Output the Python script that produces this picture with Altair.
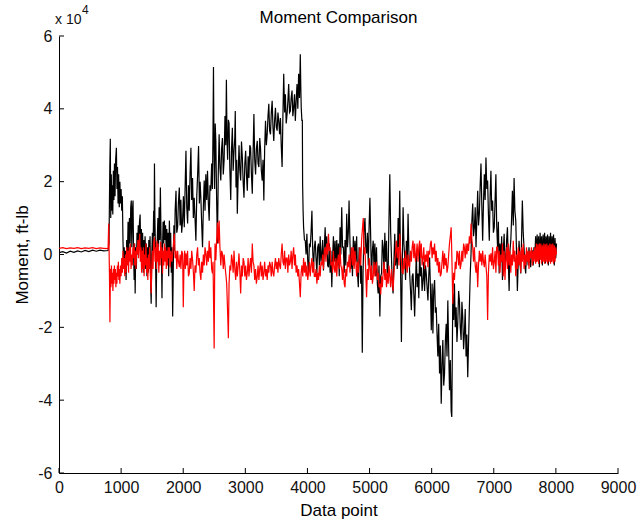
import altair as alt
import pandas as pd

# ---- data (x = data point index, y = moment in units of 1e4 ft-lb) ----
BLACK = [
    (1, 0.05), (60, 0.08), (120, 0.04), (180, 0.09), (240, 0.06), (300, 0.1), (360, 0.07), (420, 0.11),
    (480, 0.08), (540, 0.12), (600, 0.09), (660, 0.12), (720, 0.1), (790, 0.11),
    (805, 0.3), (818, 2.4), (826, 3.18), (833, 1.0), (842, 2.2), (850, 1.2), (858, 1.9), (866, 1.1),
    (875, 2.3), (884, 1.5), (893, 2.5), (902, 1.6), (912, 2.6), (924, 2.93), (933, 1.8), (942, 2.4),
    (951, 1.4), (960, 2.2), (970, 1.3), (980, 2.0), (990, 1.4), (1000, 1.8), (1010, 1.2), (1020, 1.6),
    (1030, 0.4), (1040, -0.3), (1050, 0.2), (1060, -0.52), (1070, 0.1), (1080, -0.7), (1090, 0.4),
    (1100, -0.2), (1112, 0.9), (1122, 0.0), (1134, 1.0), (1145, 0.3), (1155, 1.3), (1164, 1.48),
    (1172, 0.2), (1182, 1.2), (1192, 1.48), (1200, 0.1), (1210, -0.7), (1218, 0.3), (1226, -1.07),
    (1236, 0.2), (1246, -0.4), (1256, 0.6), (1266, 0.0), (1276, 0.8), (1286, 0.2), (1296, 0.9),
    (1306, 1.1), (1316, 0.1), (1326, 0.7), (1336, -0.2), (1346, 0.6), (1356, -0.5), (1366, 0.4),
    (1376, -0.3), (1386, 0.5), (1396, -0.4), (1406, 0.3), (1416, -0.6), (1426, 0.2), (1436, -0.5),
    (1446, 0.4), (1456, -0.2), (1466, 0.5), (1476, -0.8), (1484, -1.35), (1494, 0.0), (1504, 0.6),
    (1514, 0.1), (1524, 1.2), (1531, 0.5), (1537, 2.5), (1544, 1.0), (1551, 0.3), (1558, -0.6),
    (1564, -1.45), (1572, -0.3), (1582, 0.4), (1592, 1.0), (1602, 0.2), (1612, 1.3), (1622, 0.4),
    (1632, 1.84), (1642, 0.6), (1652, -0.4), (1658, -1.2), (1666, 0.1), (1676, 0.9), (1686, 0.3),
    (1696, 0.93), (1706, 0.4), (1716, 0.8), (1726, 0.1), (1736, 0.7), (1746, -0.2), (1756, 0.6),
    (1766, -0.6), (1777, 0.93), (1788, 0.1), (1798, 0.6), (1808, -0.5), (1818, 0.2), (1830, -1.7),
    (1840, -0.4), (1850, 0.8), (1860, 0.1), (1870, 1.2), (1884, 1.75), (1896, 0.6), (1910, 0.75),
    (1922, 1.4), (1937, 1.84), (1950, 0.8), (1962, 1.5), (1975, 0.6), (1990, 0.93), (2003, 1.6),
    (2017, 0.75), (2030, 1.8), (2044, 2.85), (2057, 1.3), (2071, 0.85), (2084, 1.9), (2097, 1.2),
    (2110, 2.2), (2124, 2.93), (2136, 1.5), (2150, 2.1), (2163, 1.0), (2177, 1.56), (2190, 1.0),
    (2204, 0.38), (2218, 1.6), (2232, 2.2), (2247, 2.98), (2260, 1.4), (2272, 2.0), (2284, 1.56),
    (2298, 0.8), (2311, 0.2), (2324, 1.3), (2338, 2.03), (2351, 1.2), (2364, 2.2), (2378, 1.5),
    (2391, 2.3), (2405, 1.4), (2418, 0.93), (2431, 1.9), (2444, 1.75), (2458, 2.5), (2470, 1.8),
    (2480, 3.5), (2487, 5.15), (2495, 3.0), (2505, 1.8), (2515, 3.6), (2525, 3.12), (2538, 1.5),
    (2551, 0.3), (2564, 2.2), (2578, 3.3), (2591, 2.4), (2605, 2.03), (2618, 2.9), (2631, 3.2),
    (2645, 2.2), (2658, 2.58), (2672, 3.8), (2685, 3.0), (2695, 4.8), (2705, 3.2), (2715, 2.6),
    (2727, 3.7), (2738, 3.6), (2750, 2.4), (2765, 1.5), (2778, 2.9), (2791, 3.48), (2804, 2.3),
    (2818, 2.85), (2830, 3.2), (2838, 3.94), (2850, 1.84), (2861, 2.6), (2871, 1.12), (2885, 2.2),
    (2898, 3.0), (2912, 2.3), (2925, 2.03), (2938, 3.1), (2952, 2.66), (2965, 2.0), (2978, 1.56),
    (2992, 2.5), (3005, 2.85), (3018, 2.2), (3032, 1.75), (3045, 2.7), (3058, 2.1), (3072, 3.0),
    (3085, 2.93), (3098, 2.2), (3112, 1.67), (3125, 2.8), (3138, 3.86), (3151, 2.6), (3165, 2.2),
    (3178, 2.9), (3192, 3.12), (3205, 2.5), (3218, 2.4), (3232, 3.2), (3245, 2.9), (3258, 2.3),
    (3272, 2.03), (3285, 2.6), (3298, 1.48), (3311, 2.9), (3325, 3.67), (3338, 3.0), (3352, 3.3),
    (3365, 3.8), (3378, 4.14), (3391, 3.4), (3405, 3.3), (3418, 3.9), (3432, 4.22), (3445, 3.5),
    (3458, 3.12), (3472, 3.7), (3485, 4.03), (3498, 3.5), (3512, 3.4), (3525, 3.9), (3538, 3.67),
    (3552, 3.3), (3565, 3.75), (3578, 3.0), (3592, 2.4), (3605, 3.8), (3618, 4.96), (3632, 3.9),
    (3645, 4.4), (3658, 3.6), (3672, 3.85), (3685, 4.2), (3698, 4.68), (3712, 3.9), (3725, 3.94),
    (3738, 4.3), (3752, 4.5), (3765, 3.8), (3778, 4.03), (3792, 4.4), (3805, 3.67), (3818, 4.2),
    (3832, 4.68), (3845, 4.0), (3858, 4.96), (3872, 4.3), (3885, 5.5), (3893, 4.6), (3900, 4.03),
    (3911, 3.67), (3918, 3.7), (3922, 1.94), (3930, 1.2), (3938, 0.75), (3952, 0.4), (3965, 0.38),
    (3978, 0.0), (3991, 0.57), (4005, -0.2), (4018, -0.52), (4031, 0.3), (4045, 0.2), (4058, 0.6),
    (4072, 1.2), (4085, 0.1), (4098, -0.44), (4111, 0.2), (4125, 0.38), (4138, -0.1), (4152, -0.52),
    (4165, 0.2), (4178, 0.3), (4192, -0.3), (4205, 0.5), (4218, -0.2), (4232, 0.03), (4245, 0.4),
    (4258, -0.44), (4272, 0.2), (4285, 0.75), (4298, 0.0), (4311, 0.5), (4325, -0.3), (4338, -0.35),
    (4352, 0.3), (4365, -0.5), (4378, 0.1), (4392, -0.9), (4405, -0.1), (4418, 0.5), (4432, -0.2),
    (4445, 0.38), (4458, -0.4), (4472, 0.4), (4485, -0.3), (4498, 0.3), (4512, -0.6), (4525, 0.75),
    (4538, 0.0), (4552, 1.3), (4565, 0.2), (4578, 0.2), (4592, -0.5), (4605, 0.4), (4618, -0.3),
    (4632, 1.12), (4645, 0.2), (4658, 0.6), (4670, 1.48), (4685, 0.3), (4698, -0.4), (4712, 0.1),
    (4725, -0.6), (4739, 0.5), (4752, -0.3), (4765, 0.38), (4778, -0.2), (4792, 0.5), (4805, -0.5),
    (4819, -0.9), (4832, 0.2), (4845, 0.03), (4858, -0.8), (4870, -0.3), (4883, -2.7), (4895, -0.5),
    (4910, 0.6), (4926, 1.0), (4939, 0.2), (4952, 0.03), (4965, 0.6), (4980, -0.3), (4993, 0.8),
    (5006, 1.56), (5019, 0.4), (5032, -0.7), (5045, 0.1), (5059, 0.38), (5072, -0.4), (5085, 0.3),
    (5099, -0.6), (5112, 0.2), (5125, -0.8), (5139, -1.07), (5152, -0.3), (5166, -1.7), (5179, -0.6),
    (5193, -0.52), (5206, 0.4), (5219, 0.2), (5232, -0.5), (5246, 0.6), (5259, -0.2), (5273, 0.38),
    (5286, -0.6), (5299, -0.52), (5312, 0.9), (5326, 2.2), (5340, 0.6), (5353, -0.08), (5366, -0.8),
    (5379, -1.07), (5392, -0.2), (5406, 0.57), (5419, -0.3), (5433, 0.2), (5446, -0.4), (5460, 1.0),
    (5473, 0.2), (5486, 1.75), (5500, -0.5), (5513, -2.4), (5527, -0.2), (5540, 1.3), (5553, 0.3),
    (5566, -0.08), (5580, -0.7), (5593, 0.38), (5606, -0.3), (5620, 1.12), (5633, 0.1), (5646, -0.52),
    (5660, -1.0), (5673, -1.53), (5686, -0.6), (5700, -0.52), (5713, -1.1), (5726, -1.7), (5740, -0.8),
    (5753, 0.03), (5766, -0.9), (5780, -0.52), (5793, -1.2), (5807, 0.2), (5820, -0.6), (5833, -0.35),
    (5846, -1.0), (5860, -0.7), (5873, -0.2), (5886, -1.0), (5900, -0.3), (5913, -0.52), (5926, -0.9),
    (5940, -1.26), (5953, -0.6), (5967, -0.08), (5980, -0.9), (5994, -2.08), (6007, -0.8), (6020, -2.17),
    (6033, -1.0), (6047, -0.7), (6060, -1.6), (6073, -1.45), (6087, -2.2), (6100, -2.8), (6113, -1.9),
    (6127, -3.27), (6140, -2.5), (6154, -4.1), (6167, -3.0), (6180, -2.35), (6194, -3.6), (6207, -3.27),
    (6220, -2.4), (6234, -1.9), (6247, -2.8), (6260, -1.26), (6274, -2.6), (6287, -3.73), (6300, -2.9),
    (6314, -4.3), (6324, -4.46), (6332, -2.8), (6340, -1.07), (6354, -1.8), (6367, -0.8), (6380, -2.0),
    (6394, -1.45), (6407, -2.4), (6420, -1.9), (6434, -1.0), (6447, -1.26), (6460, -2.0), (6474, -2.35),
    (6487, -1.3), (6500, -1.7), (6514, -2.6), (6527, -2.17), (6540, -1.5), (6554, -2.8), (6567, -2.2),
    (6581, -3.37), (6594, -2.4), (6607, -1.45), (6620, -0.6), (6634, 0.03), (6647, 0.9), (6661, 1.4),
    (6674, 0.5), (6688, 0.75), (6701, 1.3), (6714, 0.2), (6728, 1.0), (6741, 1.75), (6754, 0.8),
    (6768, 1.12), (6781, 1.9), (6794, 2.5), (6808, 1.3), (6821, 0.38), (6834, 1.4), (6848, 2.2),
    (6861, 1.5), (6874, 2.66), (6888, 1.8), (6901, 2.03), (6914, 1.1), (6928, 0.38), (6941, 1.6),
    (6954, 2.3), (6967, 1.2), (6981, 1.48), (6994, 0.6), (7008, 0.75), (7021, 1.5), (7034, 2.2),
    (7047, 0.8), (7061, 0.2), (7074, 0.9), (7087, -0.52), (7100, 0.3), (7114, -0.2), (7127, 0.5),
    (7140, -0.7), (7153, 0.1), (7167, 0.57), (7180, -0.3), (7194, -0.16), (7207, 0.4), (7220, 0.75),
    (7234, -0.2), (7247, -1.0), (7260, 0.1), (7274, 0.38), (7287, 1.0), (7300, 1.75), (7314, 0.8),
    (7327, 2.1), (7340, 1.2), (7354, 0.93), (7367, 0.0), (7380, -1.0), (7394, -0.2), (7407, 0.38),
    (7420, -0.1), (7434, -0.52), (7447, 0.4), (7460, 1.48), (7474, 0.6), (7487, 0.2), (7500, -0.3),
    (7514, -0.52), (7527, 0.1), (7540, 0.03), (7554, -0.3), (7567, 0.2), (7580, -0.2), (7594, -0.35),
    (7607, 0.1), (7621, 0.1), (7634, -0.3), (7647, 0.2), (7660, -0.1), (7674, 0.5), (7686, -0.2),
    (7698, 0.55), (7710, -0.1), (7722, 0.5), (7734, -0.35), (7746, 0.6), (7758, 0.0), (7770, 0.5),
    (7782, -0.3), (7794, 0.55), (7806, -0.1), (7818, 0.6), (7830, -0.25), (7842, 0.5), (7854, 0.05),
    (7866, 0.55), (7878, -0.3), (7890, 0.5), (7902, -0.1), (7914, 0.6), (7926, -0.2), (7938, 0.5),
    (7950, 0.0), (7962, 0.55), (7974, -0.3), (7986, 0.45), (7998, -0.1), (8010, 0.3),
]

RED = [
    (1, 0.17), (60, 0.19), (120, 0.16), (180, 0.18), (240, 0.17), (300, 0.19), (360, 0.16), (420, 0.18),
    (480, 0.17), (540, 0.19), (600, 0.16), (660, 0.18), (720, 0.17), (790, 0.16),
    (800, 0.85), (812, -0.5), (820, -1.86), (828, -0.4), (836, -0.9), (844, -0.3), (852, -0.8),
    (860, -0.5), (868, -1.0), (876, -0.4), (884, -0.8), (892, -0.3), (900, -0.7), (908, -0.4),
    (916, -0.9), (924, -0.5), (932, -0.8), (940, -0.3), (948, -0.6), (956, -0.2), (964, -0.7),
    (972, -0.4), (980, -0.8), (990, -0.3), (1000, -0.6), (1010, -0.1), (1020, -0.5), (1030, 0.1),
    (1040, -0.4), (1050, -0.1), (1060, -0.6), (1070, 0.0), (1080, -0.5), (1090, 0.2), (1100, -0.3),
    (1110, 0.1), (1120, -0.5), (1130, 0.2), (1140, -0.2), (1150, 0.3), (1160, -0.4), (1170, 0.0),
    (1180, -0.3), (1190, 0.2), (1200, -0.1), (1210, 0.3), (1220, -0.3), (1230, 0.1), (1240, -0.4),
    (1250, 0.2), (1260, 0.0), (1270, 0.4), (1280, -0.1), (1290, 0.33), (1300, 0.57), (1310, -0.2),
    (1320, 0.2), (1330, -0.5), (1340, 0.1), (1350, -0.4), (1360, 0.2), (1370, -0.6), (1380, 0.0),
    (1390, -0.3), (1400, 0.3), (1410, -0.5), (1420, -0.1), (1430, -0.7), (1440, 0.0), (1450, -0.4),
    (1460, 0.2), (1470, -0.5), (1484, -1.07), (1494, -0.3), (1504, 0.1), (1514, -0.4), (1524, 0.3),
    (1537, 0.47), (1547, -0.2), (1557, 0.2), (1567, -0.4), (1577, 0.38), (1587, -0.2), (1597, 0.3),
    (1607, -0.5), (1617, 0.1), (1627, -0.3), (1637, 0.35), (1647, -0.1), (1657, 0.2), (1667, -0.52),
    (1677, 0.1), (1687, -0.3), (1697, 0.3), (1707, -0.2), (1717, 0.2), (1727, -0.4), (1737, 0.1),
    (1747, -0.3), (1757, 0.2), (1767, -0.1), (1777, 0.2), (1790, -0.35), (1804, 0.1), (1817, -0.2),
    (1830, 0.0), (1843, 0.3), (1857, 0.57), (1870, -0.1), (1884, 0.1), (1897, -0.4), (1910, 0.1),
    (1923, -0.2), (1937, -0.35), (1950, 0.0), (1963, -0.4), (1976, 0.1), (1990, 0.03), (2001, -1.45),
    (2012, -0.3), (2023, 0.1), (2034, -0.4), (2044, 0.03), (2057, -0.3), (2070, 0.1), (2084, -0.6),
    (2097, -0.52), (2110, -0.1), (2124, -0.4), (2137, 0.1), (2151, -0.16), (2164, -0.5), (2177, -1.0),
    (2190, -0.3), (2204, -0.5), (2218, 0.0), (2231, 0.2), (2244, -0.3), (2258, -0.1), (2271, -0.5),
    (2284, -0.7), (2297, -0.2), (2311, -0.5), (2324, 0.0), (2338, -0.3), (2351, 0.2), (2364, 0.03),
    (2378, -0.3), (2391, 0.1), (2405, -0.2), (2418, 0.38), (2431, -0.1), (2444, 0.2), (2458, -0.4),
    (2471, -0.52), (2480, -0.2), (2490, -1.5), (2498, -2.58), (2505, -0.8), (2512, 0.3), (2525, -0.16),
    (2538, 0.4), (2551, 0.88), (2565, 0.3), (2578, 0.93), (2591, 0.2), (2605, -0.3), (2618, 0.1),
    (2631, 0.03), (2645, -0.4), (2658, 0.0), (2672, -0.3), (2685, -0.52), (2700, -0.8), (2715, -1.6),
    (2727, -2.3), (2738, -0.8), (2752, -0.3), (2765, -0.44), (2778, 0.0), (2791, -0.16), (2804, -0.5),
    (2818, 0.1), (2831, -0.4), (2845, -0.7), (2858, -0.2), (2871, -0.6), (2885, -0.3), (2898, 0.03),
    (2912, -0.5), (2925, -1.07), (2938, -0.3), (2952, -0.6), (2965, -0.1), (2978, -0.2), (2992, -0.6),
    (3005, -0.3), (3018, -0.7), (3032, -0.5), (3045, -0.1), (3058, -0.6), (3072, -0.3), (3085, -0.1),
    (3098, -0.5), (3112, 0.3), (3125, -0.2), (3138, -0.3), (3151, -0.7), (3165, -0.4), (3178, -0.8),
    (3192, -0.6), (3205, -0.3), (3218, -0.7), (3232, -0.4), (3245, -0.2), (3258, -0.6), (3272, -0.3),
    (3285, -0.7), (3298, -0.5), (3311, -0.2), (3325, -0.6), (3338, -0.4), (3352, -0.7), (3365, -0.3),
    (3378, -0.5), (3391, -0.2), (3405, -0.3), (3418, -0.6), (3432, -0.2), (3445, -0.5), (3458, -0.6),
    (3472, -0.3), (3485, -0.1), (3498, -0.4), (3512, -0.2), (3525, -0.5), (3538, -0.1), (3552, -0.3),
    (3565, -0.4), (3578, 0.0), (3592, 0.3), (3605, -0.2), (3618, -0.3), (3632, 0.1), (3645, -0.4),
    (3658, -0.1), (3672, -0.1), (3685, -0.5), (3698, 0.0), (3712, -0.3), (3725, -0.2), (3738, 0.1),
    (3752, -0.4), (3765, 0.0), (3778, 0.2), (3792, -0.3), (3805, 0.0), (3818, -0.5), (3832, -0.3),
    (3845, -0.6), (3858, -0.4), (3872, -0.8), (3885, -1.17), (3898, -0.5), (3911, -0.3), (3925, -0.6),
    (3938, -0.1), (3952, -0.5), (3965, -0.2), (3978, -0.6), (3991, -0.3), (4005, -0.7), (4018, -0.5),
    (4031, -0.2), (4045, -0.6), (4058, -0.3), (4072, -0.1), (4085, -0.5), (4098, -0.2), (4111, -0.6),
    (4125, -0.6), (4138, -0.4), (4152, -0.8), (4165, -0.5), (4178, -0.7), (4192, -0.3), (4205, -0.6),
    (4218, -0.2), (4232, -0.3), (4245, 0.0), (4258, -0.4), (4272, 0.1), (4285, 0.2), (4298, -0.2),
    (4311, 0.3), (4325, 0.0), (4338, 0.57), (4352, 0.1), (4365, 0.2), (4378, -0.3), (4392, -0.2),
    (4405, -0.5), (4418, 0.1), (4432, -0.4), (4445, -0.5), (4458, -0.1), (4472, -0.6), (4485, -0.2),
    (4498, 0.0), (4512, -0.4), (4525, 0.2), (4538, -0.3), (4552, -0.4), (4565, -0.7), (4578, -0.3),
    (4592, -0.8), (4605, -0.9), (4618, -0.4), (4632, -0.6), (4645, -0.2), (4658, -0.35), (4672, 0.0),
    (4685, -0.5), (4698, -0.1), (4712, 0.2), (4725, -0.3), (4739, 0.2), (4752, -0.4), (4765, 0.1),
    (4778, -0.2), (4792, -0.6), (4805, -0.2), (4819, -0.5), (4832, -0.1), (4845, 0.2), (4858, -0.3),
    (4872, 0.4), (4885, 0.7), (4899, 1.0), (4912, 0.0), (4926, 0.2), (4939, -0.5), (4952, -1.17),
    (4966, -0.4), (4980, -0.7), (4993, -0.1), (5006, -0.3), (5019, -0.7), (5032, -0.3), (5046, -0.8),
    (5059, -0.6), (5072, -0.2), (5086, -0.6), (5099, -0.3), (5112, -0.2), (5126, -0.7), (5139, -0.5),
    (5153, -0.9), (5166, -0.8), (5180, -1.1), (5193, -0.6), (5206, -0.9), (5219, -0.5), (5233, -0.2),
    (5246, -0.7), (5260, -0.4), (5273, -0.9), (5286, -0.5), (5300, -0.8), (5313, -0.3), (5326, -0.6),
    (5340, -0.9), (5353, -0.4), (5366, -0.7), (5379, -1.0), (5393, -0.5), (5406, -0.2), (5420, 0.1),
    (5433, 0.38), (5446, -0.1), (5460, 0.2), (5473, -0.3), (5486, 0.57), (5500, 0.1), (5513, -0.2),
    (5527, -0.5), (5540, -0.52), (5553, -0.1), (5566, -0.4), (5580, 0.1), (5593, -0.2), (5607, -0.5),
    (5620, 0.0), (5633, -0.3), (5646, -0.35), (5660, 0.1), (5673, -0.2), (5686, 0.2), (5700, 0.38),
    (5713, -0.1), (5726, 0.3), (5740, -0.2), (5753, 0.0), (5766, 0.3), (5780, -0.2), (5793, 0.2),
    (5807, 0.38), (5820, -0.1), (5833, 0.3), (5846, -0.3), (5860, -0.1), (5873, 0.2), (5886, -0.4),
    (5900, 0.0), (5913, -0.2), (5926, 0.1), (5940, -0.35), (5953, 0.1), (5967, 0.0), (5980, 0.3),
    (5993, 0.38), (6007, -0.1), (6020, 0.2), (6033, 0.0), (6047, 0.3), (6060, -0.2), (6073, 0.1),
    (6087, -0.3), (6100, -0.1), (6113, -0.5), (6127, -0.2), (6140, -0.6), (6154, -0.52), (6167, -0.2),
    (6180, 0.1), (6194, -0.4), (6207, 0.03), (6220, -0.3), (6234, -0.1), (6247, -0.5), (6260, -0.35),
    (6274, 0.0), (6287, 0.3), (6300, 0.5), (6314, 0.75), (6327, -0.2), (6340, -1.35), (6354, -0.5),
    (6367, -0.7), (6380, -0.2), (6394, -0.4), (6407, 0.1), (6420, 0.03), (6434, -0.3), (6447, 0.1),
    (6460, -0.4), (6474, -0.25), (6487, 0.1), (6500, -0.2), (6514, 0.3), (6527, 0.2), (6540, -0.1),
    (6554, 0.3), (6567, 0.0), (6581, 0.3), (6594, 0.1), (6607, 0.5), (6620, 0.3), (6634, 0.85),
    (6647, 0.4), (6661, 0.2), (6674, -0.2), (6688, 0.2), (6701, -0.3), (6714, -0.5), (6728, -0.2),
    (6741, -0.9), (6754, -0.3), (6768, 0.1), (6781, -0.2), (6794, 0.03), (6808, -0.3), (6821, 0.1),
    (6834, -0.2), (6848, -0.35), (6861, 0.0), (6874, -0.3), (6888, -0.6), (6901, -1.8), (6914, -0.5),
    (6928, 0.0), (6941, -0.2), (6954, 0.03), (6967, -0.3), (6981, 0.2), (6994, -0.4), (7008, -0.2),
    (7021, 0.1), (7034, -0.5), (7047, 0.2), (7061, 0.2), (7074, -0.3), (7087, 0.1), (7100, -0.5),
    (7114, 0.0), (7127, -0.2), (7140, 0.3), (7153, -0.6), (7167, 0.1), (7180, -0.7), (7194, -0.1),
    (7207, 0.2), (7220, -0.4), (7234, 0.3), (7247, -0.3), (7260, 0.1), (7274, -0.5), (7287, 0.0),
    (7300, -0.3), (7314, 0.38), (7327, -0.2), (7340, 0.1), (7354, -0.6), (7367, 0.0), (7380, -0.4),
    (7394, 0.2), (7407, -0.3), (7420, 0.1), (7434, -0.5), (7447, 0.2), (7460, -0.2), (7474, 0.3),
    (7487, -0.4), (7500, 0.0), (7514, -0.3), (7527, 0.2), (7540, -0.2), (7554, 0.1), (7567, -0.4),
    (7580, 0.1), (7594, -0.1), (7607, 0.2), (7621, -0.3), (7634, 0.1), (7647, -0.2), (7660, 0.2),
    (7674, -0.25), (7686, 0.3), (7698, -0.2), (7710, 0.28), (7722, -0.25), (7734, 0.3), (7746, -0.15),
    (7758, 0.3), (7770, -0.25), (7782, 0.25), (7794, -0.2), (7806, 0.3), (7818, -0.25), (7830, 0.28),
    (7842, -0.2), (7854, 0.3), (7866, -0.25), (7878, 0.25), (7890, -0.2), (7902, 0.3), (7914, -0.25),
    (7926, 0.28), (7938, -0.2), (7950, 0.3), (7962, -0.25), (7974, 0.25), (7986, -0.2), (7998, 0.2),
    (8010, 0.0),
]

X_TICKS = [0, 1000, 2000, 3000, 4000, 5000, 6000, 7000, 8000, 9000]
Y_TICKS = [-6, -4, -2, 0, 2, 4, 6]
TITLE = "Moment Comparison"
X_TITLE = "Data point"
Y_TITLE = "Moment, ft-lb"
EXP_BASE = "x 10"
EXP_POWER = "4"

W, H = 559, 437
FONT = "Liberation Sans"

black_df = pd.DataFrame(BLACK, columns=["x", "y"])
red_df = pd.DataFrame(RED, columns=["x", "y"])

xscale = alt.Scale(domain=[0, 9000], nice=False, zero=False)
yscale = alt.Scale(domain=[-6, 6], nice=False, zero=False)

xaxis = alt.Axis(
    values=X_TICKS, labelExpr="'' + datum.value", title=X_TITLE, grid=False, tickSize=0, ticks=False,
    domainColor="black", domainWidth=1, labelColor="#111111", labelFont=FONT,
    labelFontSize=16, labelPadding=6, labelFlush=False, labelOverlap=False,
    titleFont=FONT, titleFontSize=17, titleFontWeight="normal", titleColor="black",
    titleX=W / 2, titleY=42, titleBaseline="alphabetic", titleAlign="center",
)
yaxis = alt.Axis(
    values=Y_TICKS, labelExpr="'' + datum.value", title=Y_TITLE, grid=False, tickSize=0, ticks=False,
    domainColor="black", domainWidth=1, labelColor="#111111", labelFont=FONT,
    labelFontSize=16, labelPadding=7, labelFlush=False, labelOverlap=False,
    titleFont=FONT, titleFontSize=17, titleFontWeight="normal", titleColor="black",
    titleX=-32, titleY=H / 2, titleAngle=-90, titleBaseline="alphabetic", titleAlign="center",
)

X_ENC = dict(scale=xscale, axis=xaxis)
Y_ENC = dict(scale=yscale, axis=yaxis)

black_line = alt.Chart(black_df).mark_line(color="#000000", strokeWidth=1.2, clip=True).encode(
    x=alt.X("x:Q", **X_ENC),
    y=alt.Y("y:Q", **Y_ENC),
)
red_line = alt.Chart(red_df).mark_line(color="#ff0000", strokeWidth=1.2, clip=True).encode(
    x=alt.X("x:Q", **X_ENC),
    y=alt.Y("y:Q", **Y_ENC),
)

xticks = alt.Chart(pd.DataFrame({"x": X_TICKS})).mark_rule(color="black", strokeWidth=1).encode(
    x=alt.X("x:Q", **X_ENC),
    y=alt.value(H),
    y2=alt.value(H - 5),
)
yticks = alt.Chart(pd.DataFrame({"y": Y_TICKS})).mark_rule(color="black", strokeWidth=1).encode(
    y=alt.Y("y:Q", **Y_ENC),
    x=alt.value(0),
    x2=alt.value(5),
)

title_txt = alt.Chart(pd.DataFrame({"s": [TITLE]})).mark_text(
    font=FONT, fontSize=17, color="black", align="center", baseline="alphabetic"
).encode(text="s:N", x=alt.value(W / 2), y=alt.value(-13))

exp_base = alt.Chart(pd.DataFrame({"s": [EXP_BASE]})).mark_text(
    font=FONT, fontSize=14, color="#111111", align="left", baseline="alphabetic"
).encode(text="s:N", x=alt.value(-4), y=alt.value(-12))

exp_pow = alt.Chart(pd.DataFrame({"s": [EXP_POWER]})).mark_text(
    font=FONT, fontSize=12, color="#111111", align="left", baseline="alphabetic"
).encode(text="s:N", x=alt.value(23), y=alt.value(-22))

chart = alt.layer(
    black_line, red_line, xticks, yticks, title_txt, exp_base, exp_pow
).properties(
    width=W, height=H,
    autosize=alt.AutoSizeParams(type="none"),
    padding={"left": 59, "top": 36, "right": 19, "bottom": 50},
    background="white",
).configure_view(stroke=None)

chart.save("out.html", embed_options={"renderer": "svg", "actions": False})
